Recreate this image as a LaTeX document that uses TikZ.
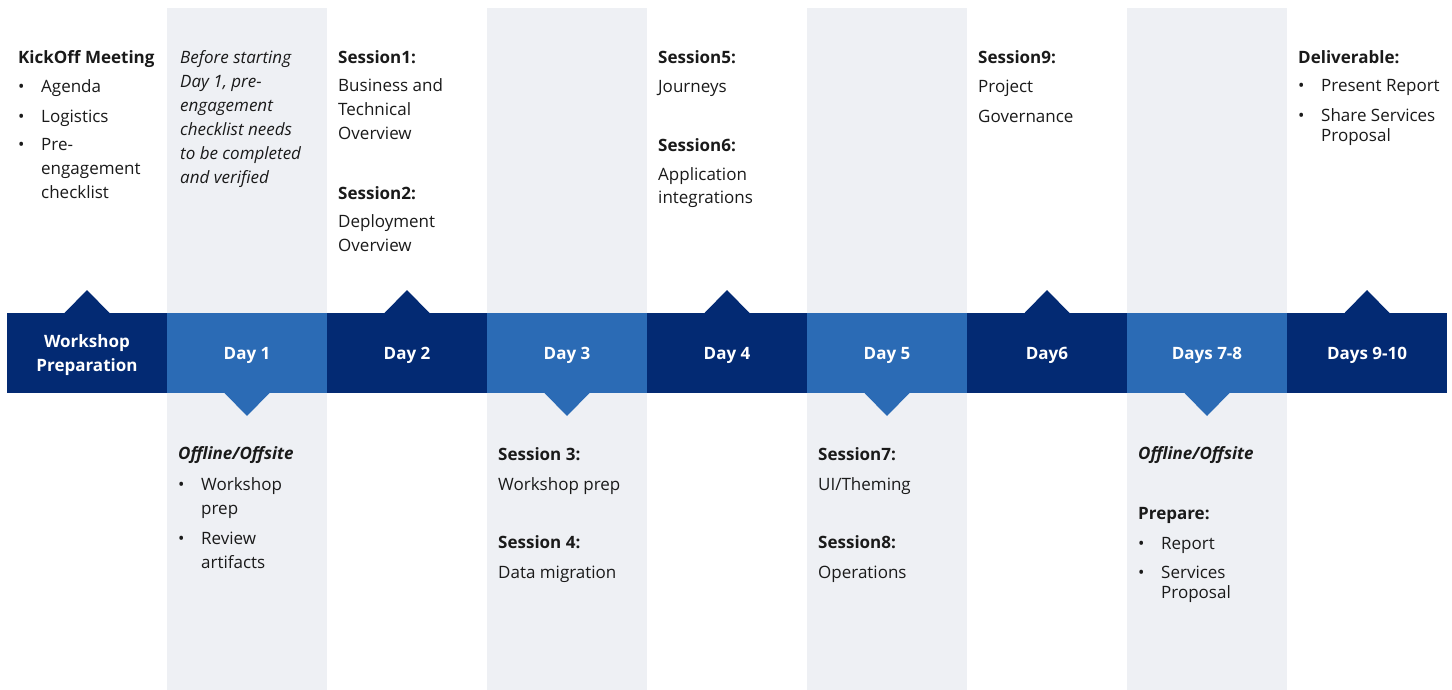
\documentclass[tikz,border=0pt]{standalone}
\usepackage{fontspec}
\setmainfont{Open Sans}
\definecolor{navy}{HTML}{032A73}
\definecolor{lblue}{HTML}{2B6BB5}
\definecolor{band}{HTML}{EEF0F4}
\definecolor{ink}{HTML}{1A1A1A}
\newcommand{\bul}{\makebox[23pt][l]{•}}
\newcommand{\ind}{\hspace*{23pt}}
\newcommand{\fl}{\rule{0pt}{17pt}}
\begin{document}
\begin{tikzpicture}[x=1pt,y=-1pt,
  seg/.style={minimum width=160pt, minimum height=80pt, inner sep=0pt, outer sep=0pt},
  lab/.style={inner sep=0pt, text=white, font=\fontsize{17}{24}\selectfont\bfseries, align=center},
  txt/.style={anchor=north west, inner sep=0pt, align=left, text=ink,
    font=\fontsize{17}{24}\selectfont},
  txti/.style={txt, font=\fontsize{17}{24}\selectfont\itshape},
]
\useasboundingbox (0,0) rectangle (1452,690);
\fill[white] (0,0) rectangle (1452,690);
\foreach \k in {1,3,5,7} \fill[band] (7+160*\k,8) rectangle (167+160*\k,690);

% timeline bar
\node[seg, fill=navy]  (d0) at (87,353)   {};
\node[seg, fill=lblue] (d1) at (247,353)  {};
\node[seg, fill=navy]  (d2) at (407,353)  {};
\node[seg, fill=lblue] (d3) at (567,353)  {};
\node[seg, fill=navy]  (d4) at (727,353)  {};
\node[seg, fill=lblue] (d5) at (887,353)  {};
\node[seg, fill=navy]  (d6) at (1047,353) {};
\node[seg, fill=lblue] (d7) at (1207,353) {};
\node[seg, fill=navy]  (d8) at (1367,353) {};

\node[lab] (l0) at ([yshift=-2pt]d0.center) {Workshop\\Preparation};
\node[lab] (l1) at ([yshift=-2pt]d1.center) {Day 1};
\node[lab] (l2) at ([yshift=-2pt]d2.center) {Day 2};
\node[lab] (l3) at ([yshift=-2pt]d3.center) {Day 3};
\node[lab] (l4) at ([yshift=-2pt]d4.center) {Day 4};
\node[lab] (l5) at ([yshift=-2pt]d5.center) {Day 5};
\node[lab] (l6) at ([yshift=-2pt]d6.center) {Day6};
\node[lab] (l7) at ([yshift=-2pt]d7.center) {Days 7-8};
\node[lab] (l8) at ([yshift=-2pt]d8.center) {Days 9-10};

% pointers
\foreach \n in {d0,d2,d4,d6,d8}
  \fill[navy] ([xshift=-22.5pt]\n.north) -- ([yshift=23pt]\n.north) -- ([xshift=22.5pt]\n.north) -- cycle;
\foreach \n in {d1,d3,d5,d7}
  \fill[lblue] ([xshift=-22.5pt]\n.south) -- ([yshift=-23pt]\n.south) -- ([xshift=22.5pt]\n.south) -- cycle;

% top texts (first baseline at y = 63)
\node[txt] (t0) at (18,46) {\fl\textbf{KickOff Meeting}\\[5pt]
  \bul Agenda\\[6pt] \bul Logistics\\[4pt] \bul Pre-\\ \ind engagement\\ \ind checklist};
\node[txti] (t1) at (180,46) {\fl Before starting\\Day 1, pre-\\engagement\\checklist needs\\to be completed\\and verified};
\node[txt] (t2) at (338,46) {\fl\textbf{Session1:}\\[4pt] Business and\\Technical\\Overview\\[36pt]
  \textbf{Session2:}\\[4pt] Deployment\\Overview};
\node[txt] (t4) at (658,46) {\fl\textbf{Session5:}\\[5pt] Journeys\\[35pt]
  \textbf{Session6:}\\[5pt] Application\\[-1pt] integrations};
\node[txt] (t6) at (978,46) {\fl\textbf{Session9:}\\[5pt] Project\\[6pt] Governance};
\node[txt] (t8) at (1298,46) {\fl\textbf{Deliverable:}\\[4pt] \bul Present Report\\[6pt]
  \bul Share Services\\[-4pt] \ind Proposal};

% bottom texts
\node[txt] (b1) at (178,442) {\fl\textbf{\textit{Offline/Offsite}}\\[7pt]
  \bul Workshop\\ \ind prep\\[6pt] \bul Review\\ \ind artifacts};
\node[txt] (b3) at (498,443) {\fl\textbf{Session 3:}\\[6pt] Workshop prep\\[34pt]
  \textbf{Session 4:}\\[6pt] Data migration};
\node[txt] (b5) at (818,443) {\fl\textbf{Session7:}\\[6pt] UI/Theming\\[34pt]
  \textbf{Session8:}\\[6pt] Operations};
\node[txt] (b7) at (1138,442) {\fl\textbf{\textit{Offline/Offsite}}\\[36pt]
  \textbf{Prepare:}\\[6pt] \bul Report\\[5pt] \bul Services\\[-4pt] \ind Proposal};
\end{tikzpicture}
\end{document}
